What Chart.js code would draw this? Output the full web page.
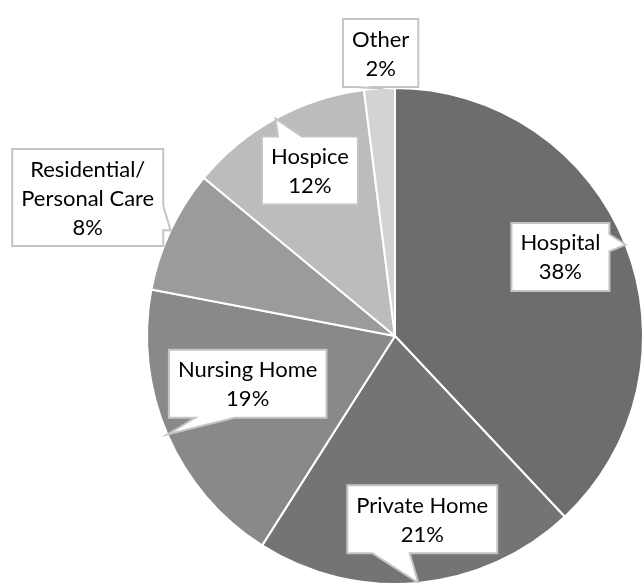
<!DOCTYPE html>
<html>
<head>
<meta charset="utf-8">
<script src="https://cdn.jsdelivr.net/npm/chart.js@4.4.1/dist/chart.umd.min.js"></script>
<style>
  html, body { margin: 0; padding: 0; background: #fff; overflow: hidden; }
  #wrap { position: absolute; left: 0; top: 0; width: 660px; height: 600px; }
</style>
</head>
<body>
<div id="wrap"><canvas id="myChart"></canvas></div>
<script>
// data, clockwise from 12 o'clock
const categories = [["Hospital"], ["Private Home"], ["Nursing Home"], ["Residential/", "Personal Care"], ["Hospice"], ["Other"]];
const shares = [38, 21, 19, 8, 12, 2];

const sliceColors = ["#6d6d6d", "#747474", "#898989", "#9b9b9b", "#bcbcbc", "#d3d3d3"];
// callout box centres, measured in pie radii from the pie centre
const calloutOffsets = [[0.667, -0.319], [0.11, 0.739], [-0.594, 0.193], [-1.239, -0.558], [-0.343, -0.667], [-0.058, -1.141]];

const FONT = "22px Lato, Carlito, 'Liberation Sans', sans-serif";
const LINE_H = 29;
const PAD_X = 9;
const PAD_Y = 5;

// draws Excel-style rectangular callouts with a wedge pointing at the slice edge
const calloutPlugin = {
  id: "callouts",
  afterDatasetsDraw(chart) {
    const ctx = chart.ctx;
    const meta = chart.getDatasetMeta(0);
    ctx.save();
    ctx.font = FONT;
    meta.data.forEach((arc, i) => {
      const p = arc.getProps(["x", "y", "startAngle", "endAngle", "outerRadius"], true);
      const mid = (p.startAngle + p.endAngle) / 2;
      const r = p.outerRadius;
      const tipX = p.x + r * Math.cos(mid);
      const tipY = p.y + r * Math.sin(mid);

      const lines = categories[i].concat([shares[i] + "%"]);
      const textW = Math.max(...lines.map((l) => ctx.measureText(l).width));
      const w = textW + 2 * PAD_X;
      const h = lines.length * LINE_H + 2 * PAD_Y;
      const cx = p.x + calloutOffsets[i][0] * r;
      const cy = p.y + calloutOffsets[i][1] * r;
      const left = cx - w / 2, top = cy - h / 2, right = cx + w / 2, bottom = cy + h / 2;

      const dx = tipX - cx, dy = tipY - cy;
      let side;
      if (Math.abs(dx) / w > Math.abs(dy) / h) side = dx > 0 ? "right" : "left";
      else side = dy > 0 ? "bottom" : "top";
      const fr = (side === "top" || side === "bottom") ? (dx < 0 ? [2 / 12, 5 / 12] : [7 / 12, 10 / 12])
                                                       : (dy < 0 ? [2 / 12, 5 / 12] : [7 / 12, 10 / 12]);

      ctx.beginPath();
      ctx.moveTo(left, top);
      if (side === "top") {
        ctx.lineTo(left + w * fr[0], top);
        ctx.lineTo(tipX, tipY);
        ctx.lineTo(left + w * fr[1], top);
      }
      ctx.lineTo(right, top);
      if (side === "right") {
        ctx.lineTo(right, top + h * fr[0]);
        ctx.lineTo(tipX, tipY);
        ctx.lineTo(right, top + h * fr[1]);
      }
      ctx.lineTo(right, bottom);
      if (side === "bottom") {
        ctx.lineTo(left + w * fr[1], bottom);
        ctx.lineTo(tipX, tipY);
        ctx.lineTo(left + w * fr[0], bottom);
      }
      ctx.lineTo(left, bottom);
      if (side === "left") {
        ctx.lineTo(left, top + h * fr[1]);
        ctx.lineTo(tipX, tipY);
        ctx.lineTo(left, top + h * fr[0]);
      }
      ctx.closePath();
      ctx.fillStyle = "#ffffff";
      ctx.fill();
      ctx.lineWidth = 2;
      ctx.strokeStyle = "#c4c4c4";
      ctx.stroke();

      ctx.fillStyle = "#000000";
      ctx.textAlign = "center";
      ctx.textBaseline = "middle";
      lines.forEach((l, j) => {
        ctx.fillText(l, cx, top + PAD_Y + LINE_H * (j + 0.5) + 1);
      });
    });
    ctx.restore();
  },
};

const ctx = document.getElementById("myChart").getContext("2d");
new Chart(ctx, {
  type: "pie",
  data: {
    labels: categories.map((c) => c.join(" ")),
    datasets: [
      {
        data: shares,
        backgroundColor: sliceColors,
        borderColor: "#ffffff",
        borderWidth: 2,
        hoverOffset: 0,
      },
    ],
  },
  options: {
    responsive: true,
    maintainAspectRatio: false,
    animation: false,
    layout: { padding: { left: 146, top: 87, right: 16, bottom: 15 } },
    plugins: {
      legend: { display: false },
      tooltip: { enabled: false },
    },
  },
  plugins: [calloutPlugin],
});
</script>
</body>
</html>
